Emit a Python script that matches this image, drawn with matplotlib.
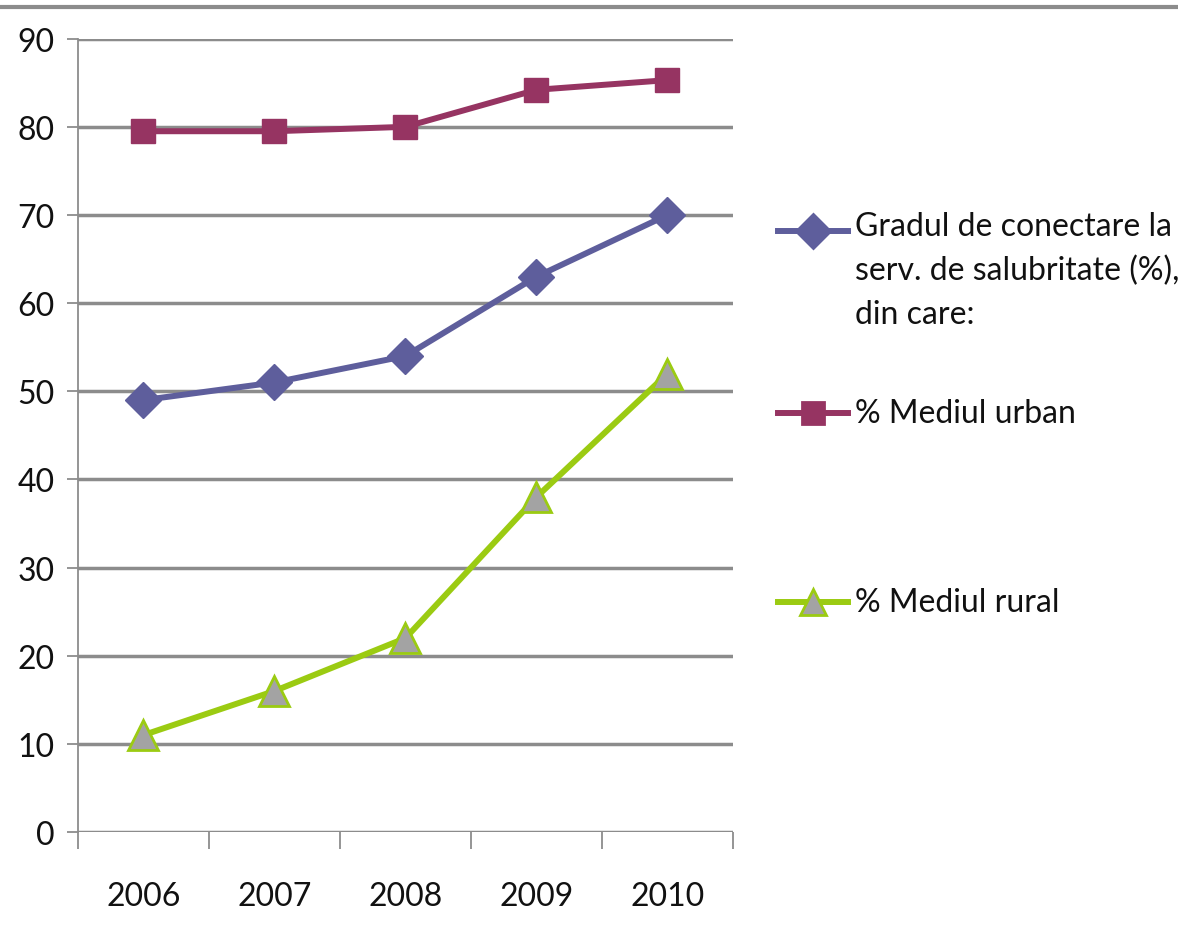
import matplotlib.pyplot as plt
from matplotlib.lines import Line2D

plt.rcParams['font.family'] = ['Lato', 'DejaVu Sans']

years = ['2006', '2007', '2008', '2009', '2010']
total = [49, 51, 54, 63, 70]
urban = [79.5, 79.5, 80, 84.2, 85.3]
rural = [11, 16, 22, 38, 52]

lbl_total = 'Gradul de conectare la\nserv. de salubritate (%),\ndin care:'
lbl_urban = '% Mediul urban'
lbl_rural = '% Mediul rural'

c_total = '#5E5E9C'
c_urban = '#963462'
c_rural = '#9BCB12'
c_tri = '#A3A3A3'
c_grid = '#8C8C8C'
fs = 23

fig = plt.figure(figsize=(11.78, 9.29), dpi=100)
ax = fig.add_axes([0.0662, 0.1033, 0.556, 0.854])

x = list(range(len(years)))
ax.plot(x, total, color=c_total, lw=4.3, marker='D', ms=18, mfc=c_total, mec=c_total, zorder=3)
ax.plot(x, urban, color=c_urban, lw=4.3, marker='s', ms=17, mfc=c_urban, mec=c_urban, zorder=3)
ax.plot(x, rural, color=c_rural, lw=4.3, marker='^', ms=21, mfc=c_tri, mec=c_rural, mew=2, zorder=3)

ax.set_xlim(-0.5, 4.5)
ax.set_ylim(0, 90)
ax.set_yticks(range(0, 91, 10))
ax.set_xticks([i - 0.5 for i in range(6)])
ax.set_xticklabels([''] * 6)
ax.set_xticks(x, minor=True)
ax.set_xticklabels(years, minor=True)
ax.tick_params(axis='x', which='minor', length=0, pad=35, labelsize=fs, labelcolor='#111111')
ax.tick_params(axis='x', which='major', length=12, width=1.3, color=c_grid, direction='out')
ax.tick_params(axis='y', length=8, width=1.3, color=c_grid, pad=9, labelsize=fs, labelcolor='#111111')

ax.grid(axis='y', color=c_grid, lw=2.5)
ax.set_axisbelow(True)
for s in ['top', 'right', 'bottom']:
    ax.spines[s].set_visible(False)
ax.spines['left'].set_color(c_grid)
ax.spines['left'].set_linewidth(1.3)

# legend drawn by hand to keep the Excel-like placement
entries = [
    (lbl_total, c_total, 'D', c_total, c_total, 17, 1 - 232 / 929, 0.022),
    (lbl_urban, c_urban, 's', c_urban, c_urban, 16, 1 - 414 / 929, 0.016),
    (lbl_rural, c_rural, '^', c_tri, c_rural, 19, 1 - 603 / 929, 0.016),
]
for text, col, mk, fc, ec, ms, yy, off in entries:
    fig.add_artist(Line2D([778 / 1178, 848 / 1178], [yy, yy], color=col, lw=4.3))
    fig.add_artist(Line2D([813 / 1178], [yy], marker=mk, ms=ms, mfc=fc, mec=ec, mew=2))
    fig.text(855 / 1178, yy + off, text, fontsize=fs, va='top', ha='left',
             linespacing=1.58, color='#111111')

fig.add_artist(Line2D([0, 1], [1 - 8 / 929, 1 - 8 / 929], color='#8C8C8C', lw=3))

fig.savefig('out.png', dpi=100)
